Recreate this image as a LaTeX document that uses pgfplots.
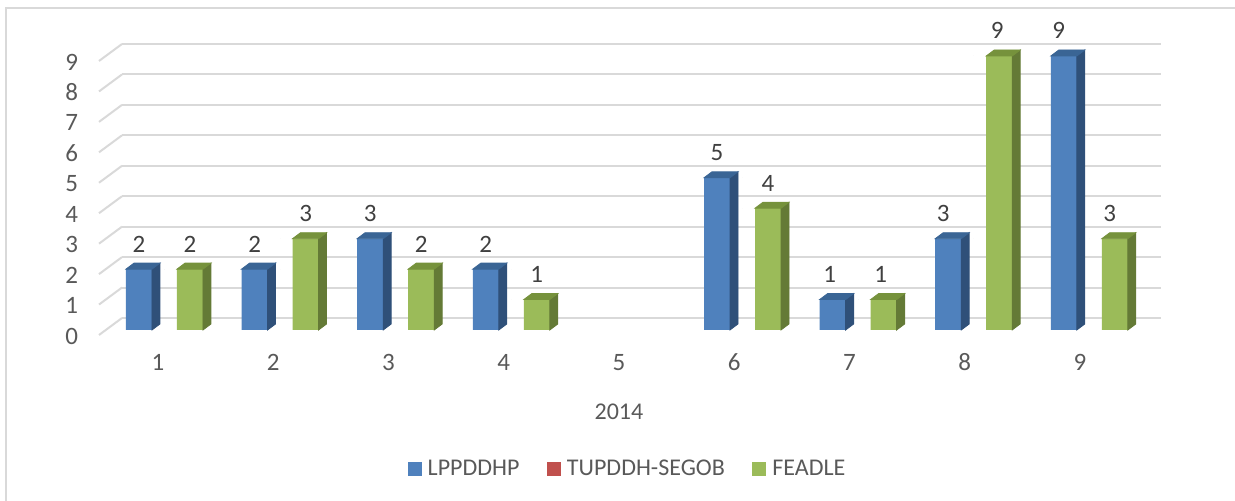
\documentclass[border=0pt]{standalone}
\usepackage{fontspec}
\setmainfont{Carlito}
\usepackage{pgfplots}
\usepackage{pgfplotstable}
\pgfplotsset{compat=1.18}

% scale: 1 px of the reference = 0.5pt
\definecolor{bluefront}{HTML}{4F81BD}
\definecolor{blueside}{HTML}{2F5079}
\definecolor{bluetop}{HTML}{3A6595}
\definecolor{greenfront}{HTML}{9BBB59}
\definecolor{greenside}{HTML}{647A36}
\definecolor{greentop}{HTML}{76923C}
\definecolor{redfront}{HTML}{C0504D}
\definecolor{gridgray}{HTML}{D9D9D9}
\definecolor{ticktext}{HTML}{595959}
\definecolor{labeltext}{HTML}{404040}
\newcommand{\chartfont}{\fontsize{12}{14}\selectfont}
\newcommand{\numfont}{\fontsize{12.5}{14}\selectfont}

% dx: small sideways nudge of the value label, in pt
\pgfplotstableread{
c v dx
1 2 0
2 2 0
3 3 0
4 2 0
6 5 0
7 1 -1.5
8 3 -2.5
9 9 -2.5
}\lppddhp

\pgfplotstableread{
c v dx
1 2 0
2 3 0
3 2 0
4 1 0
6 4 0
7 1 -1.5
8 9 -1
9 3 -2.5
}\feadle

\pgfplotstableread{
y
0
1
2
3
4
5
6
7
8
9
}\levels

\pgfdeclareplotmark{floorline}{%
  \pgfpathmoveto{\pgfpoint{-11.5pt}{-2.5pt}}%
  \pgfpathlineto{\pgfpoint{0pt}{6pt}}%
  \pgfusepathqstroke
}

\pgfplotsset{
  front bar/.style n args={2}{
    forget plot, ybar, bar width=13pt, bar shift=#1pt, draw=none, fill=#2,
    visualization depends on=\thisrow{dx}\as\labeldx,
    nodes near coords,
    every node near coord/.append style={font=\numfont, text=labeltext, anchor=base, xshift=#1pt+\labeldx pt, yshift=8.5pt, inner sep=0pt},
  },
  side faces/.style n args={3}{
    forget plot, only marks, mark=*, mark size=0pt,
    mark options={draw=none, fill=none},
    scatter, visualization depends on=rawy\as\rawy,
    scatter/@pre marker code/.code={%
      \pgfmathsetmacro\h{15.22*\rawy}%
      \pgfmathsetmacro\l{#1-6.5}%
      \pgfmathsetmacro\r{#1+6.5}%
      \pgfmathsetmacro\rr{#1+10.5}%
      \pgfmathsetmacro\ll{#1-2.5}%
      \fill[#2] (\r pt,0pt) -- (\rr pt,3pt) -- (\rr pt,3pt-\h pt) -- (\r pt,-\h pt) -- cycle;
      \fill[#3] (\l pt,0pt) -- (\ll pt,3pt) -- (\rr pt,3pt) -- (\r pt,0pt) -- cycle;
      \scope
    },
    scatter/@post marker code/.code={\endscope},
  },
}

\begin{document}
\begin{tikzpicture}
\path[use as bounding box] (-61pt,-85.5pt) rectangle (556.5pt,165pt);
\draw[gridgray, line width=1pt] (-58pt,-85.5pt) -- (-58pt,160.75pt) -- (556.5pt,160.75pt);
\begin{axis}[
    scale only axis, width=519.5pt, height=137pt,
    xmin=0.6324, xmax=9.6202, ymin=0, ymax=9,
    clip=false,
    axis line style={draw=none},
    major tick length=0pt,
    xtick={0.944,1.941,2.938,3.935,4.932,5.929,6.926,7.923,8.920},
    xticklabels={1,2,3,4,5,6,7,8,9},
    ytick={0,...,9},
    /pgf/number format/assume math mode=true,
    tick label style={font=\numfont, text=ticktext},
    xticklabel style={anchor=base, yshift=-20.5pt},
    yticklabel style={anchor=east, xshift=-18.5pt, yshift=-3pt},
    ymajorgrids,
    grid style={gridgray, line width=1pt, yshift=6pt},
    xlabel=2014,
    every axis x label/.style={at={(axis description cs:0.4783,-0.299)}, anchor=center, font=\chartfont, text=ticktext},
    legend style={at={(axis description cs:0.4875,-0.5073)}, anchor=center, draw=none, fill=none,
      legend columns=3, font=\chartfont, text=ticktext, inner sep=0pt,
      /tikz/every odd column/.append style={column sep=1pt},
      /tikz/every even column/.append style={column sep=11.75pt}},
    legend image code/.code={\fill[draw=none,#1] (0pt,-3.5pt) rectangle (7pt,3.5pt);},
  ]
  \addplot[forget plot, only marks, mark=floorline, gridgray, line width=1pt] table[x expr=0.6324, y=y] {\levels};

  \addplot[front bar={-12.75}{bluefront}] table[x=c, y=v] {\lppddhp};
  \addplot[side faces={-12.75}{blueside}{bluetop}] table[x=c, y=v] {\lppddhp};
  \addplot[front bar={12.75}{greenfront}] table[x=c, y=v] {\feadle};
  \addplot[side faces={12.75}{greenside}{greentop}] table[x=c, y=v] {\feadle};

  \addlegendimage{fill=bluefront, draw=none}
  \addlegendentry{LPPDDHP}
  \addlegendimage{fill=redfront, draw=none}
  \addlegendentry{TUPDDH-SEGOB}
  \addlegendimage{fill=greenfront, draw=none}
  \addlegendentry{FEADLE}
\end{axis}
\end{tikzpicture}
\end{document}
